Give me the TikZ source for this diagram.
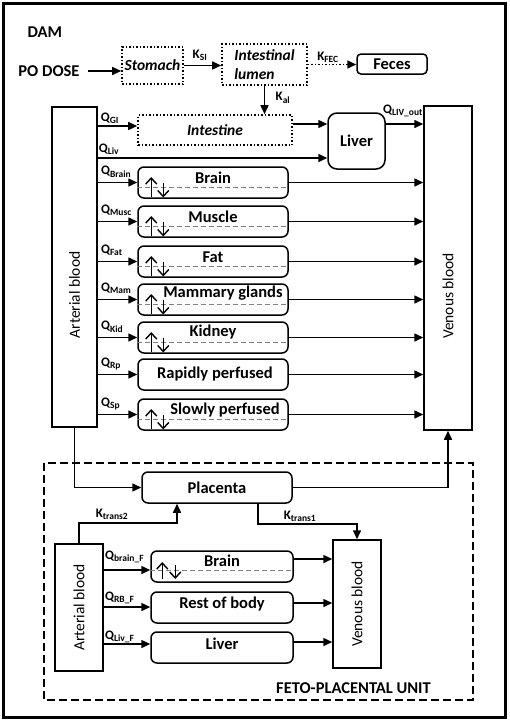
\documentclass[tikz,border=0pt]{standalone}
\usepackage{graphicx}
\usepackage{fontspec}
\setmainfont{Carlito}
\usetikzlibrary{arrows.meta,calc}

\newcommand\mainfont{\fontsize{16.5}{19}\selectfont}
\newcommand\qfont{\fontsize{13}{15}\selectfont}
\newcommand\qsub[1]{\textsubscript{\fontsize{9.5}{10}\selectfont #1}}

\tikzset{
  box/.style={draw,line width=1.5pt,minimum height=31pt,inner sep=0pt},
  organ/.style={box,rounded corners=6pt,minimum width=150pt},
  forgan/.style={box,rounded corners=6pt,minimum width=142pt},
  gut/.style={box,dotted,line width=1.6pt,font=\fontsize{15.5}{19}\selectfont\bfseries\itshape},
  blood/.style={draw,line width=1.5pt,inner sep=0pt,font=\fontsize{15.5}{18}\selectfont\mdseries},
  flow/.style={line width=1.5pt,-{Triangle[length=9pt,width=8pt]}},
  qlab/.style={font=\qfont\bfseries,inner sep=0pt},
  swap/.style={line width=1.4pt,-{Straight Barb[length=6pt,width=11pt]}},
  exline/.style={gray,line width=1pt,dash pattern=on 5pt off 3pt},
}

\begin{document}
\begin{tikzpicture}[x=1pt,y=-1pt,font=\mainfont\bfseries]
  \useasboundingbox (0,0) rectangle (510,721);
  \draw[line width=3pt] (3.5,3.5) rectangle (505.5,717.5);
  % Dosing and gut
  \node[anchor=west] (dam) at (24,32) {DAM};
  \node (dose) at (49,71) {PO DOSE};
  \node[gut,minimum width=61pt,minimum height=37pt] (stom) at (152.5,65.5) {Stomach};
  \node[gut,minimum width=85pt,minimum height=41pt,align=left] (lumen) at (264.5,64.5) {Intestinal\\lumen};
  \node[box,rounded corners=4pt,minimum width=70pt,minimum height=20pt] (feces) at (392,64) {Feces};
  \draw[flow] ([xshift=5pt]dose.east) -- (dose.east -| stom.west);
  \draw[flow] (stom.east) -- (stom.east -| lumen.west);
  \draw[flow,dotted] (lumen.east) -- (lumen.east -| feces.west);
  \node[qlab] (ksi) at (200,55) {K\qsub{SI}};
  \node[qlab] (kfec) at (328,57) {K\qsub{FEC}};
  % Blood pools
  \node[blood,minimum width=45pt,minimum height=320pt] (art) at (74.5,267) {\rotatebox{90}{Arterial blood\hspace{56pt}}};
  \node[blood,minimum width=48pt,minimum height=324pt] (ven) at (448,268) {\rotatebox{90}{Venous blood\hspace{56pt}}};
  % Intestine and liver
  \node[gut,minimum width=154pt,minimum height=30pt] (intest) at (215,130) {Intestine};
  \node[box,rounded corners=9pt,minimum width=57pt,minimum height=56pt] (liver) at (356.5,141) {Liver};
  \draw[flow] (lumen.south) -- (lumen.south |- intest.north);
  \node[qlab] (kal) at (283,98) {K\qsub{al}};
  \draw[flow] ([yshift=4pt]intest.west -| art.east) -- ([yshift=4pt]intest.west);
  \draw[flow] ([yshift=6pt]intest.east) -- ([yshift=6pt]intest.east -| liver.west);
  \draw[flow] ([yshift=-17pt]liver.west -| art.east) -- ([yshift=-17pt]liver.west);
  \draw[flow] ([yshift=17pt]liver.east) -- ([yshift=17pt]liver.east -| ven.west);
  \node[qlab] (qgi) at (110,118) {Q\qsub{GI}};
  \node[qlab] (qliv) at (109,149) {Q\qsub{Liv}};
  \node[qlab] (qlivout) at (403,111) {Q\qsub{LIV\_out}};
  % Tissues
  \foreach \y/\nm/\txt/\q/\dx/\dy in {182.5/brain/Brain/Brain/0/4.5, 221.5/musc/Muscle/Musc/0/4.5,
      261.5/fat/Fat/Fat/0/4.5, 299.5/mam/Mammary glands/Mam/10/6, 337.5/kid/Kidney/Kid/0/5.5,
      374.5/rp/Rapidly perfused/Rp/2/0, 414.5/sp/Slowly perfused/Sp/12/4.5}
  {
    \node[organ,label={[xshift=\dx pt,yshift=\dy pt]center:\txt}] (\nm) at (213,\y) {};
    \node[qlab,anchor=base west] (q\nm) at (101,\y-8) {Q\qsub{\q}};
    \draw[flow] (art.east |- \nm.west) -- (\nm.west);
    \draw[flow] (\nm.east) -- (\nm.east -| ven.west);
  }
  \foreach \nm in {brain,musc,fat,mam,kid,sp}
  {
    \draw[exline] ([yshift=-5pt]\nm.west) -- ([yshift=-5pt]\nm.east);
    \draw[swap] ([xshift=14pt,yshift=-14pt]\nm.west) -- ([xshift=14pt,yshift=5.5pt]\nm.west);
    \draw[swap] ([xshift=26pt]\nm.west) -- ([xshift=26pt,yshift=-15pt]\nm.west);
  }
  % Feto-placental unit
  \draw[line width=2.2pt,dash pattern=on 8pt off 4pt] (44,463) rectangle (473,700);
  \node (feto) at (353.5,688) {FETO-PLACENTAL UNIT};
  \node[box,rounded corners=6pt,minimum width=150pt] (plac) at (217,487.5) {Placenta};
  \draw[flow] (art.south) |- (plac.west);
  \draw[flow] (plac.east) -| (ven.south);
  \node[blood,minimum width=48pt,minimum height=127pt] (fart) at (79,607.5) {\rotatebox{90}{Arterial blood}};
  \node[blood,minimum width=48pt,minimum height=128pt] (fven) at (357,604) {\rotatebox{90}{Venous blood}};
  \coordinate (kt2) at (177,523);
  \coordinate (kt1) at (258,524);
  \draw[flow] (fart.north) |- (kt2) -- (kt2 |- plac.south);
  \draw[flow] (kt1 |- plac.south) -- (kt1) -| (fven.north);
  \node[qlab] (ktwo) at (112,514) {K\qsub{trans2}};
  \node[qlab] (kone) at (300,516) {K\qsub{trans1}};
  \foreach \y/\nm/\txt/\q/\din/\dout/\dy/\dq in {566.5/fbrain/Brain/brain\_F/-3.5/7.5/5.5/11,
      607.5/frb/Rest of body/RB\_F/0.5/4.5/3.5/7, 647.5/fliv/Liver/Liv\_F/3.5/5.5/3.5/5}
  {
    \node[forgan,label={[yshift=\dy pt]center:\txt}] (\nm) at (222,\y) {};
    \draw[flow] ([yshift=\din pt]\nm.west -| fart.east) -- ([yshift=\din pt]\nm.west);
    \draw[flow] ([yshift=\dout pt]\nm.east) -- ([yshift=\dout pt]\nm.east -| fven.west);
    \node[qlab,anchor=base west] (q\nm) at (105,\y-\din-\dq) {Q\qsub{\q}};
  }
  \draw[exline] ([yshift=-3.5pt]fbrain.west) -- ([yshift=-3.5pt]fbrain.east);
  \draw[swap] ([xshift=12pt,yshift=-12.5pt]fbrain.west) -- ([xshift=12pt,yshift=4.5pt]fbrain.west);
  \draw[swap] ([xshift=25pt,yshift=1.5pt]fbrain.west) -- ([xshift=25pt,yshift=-12.5pt]fbrain.west);
\end{tikzpicture}
\end{document}
